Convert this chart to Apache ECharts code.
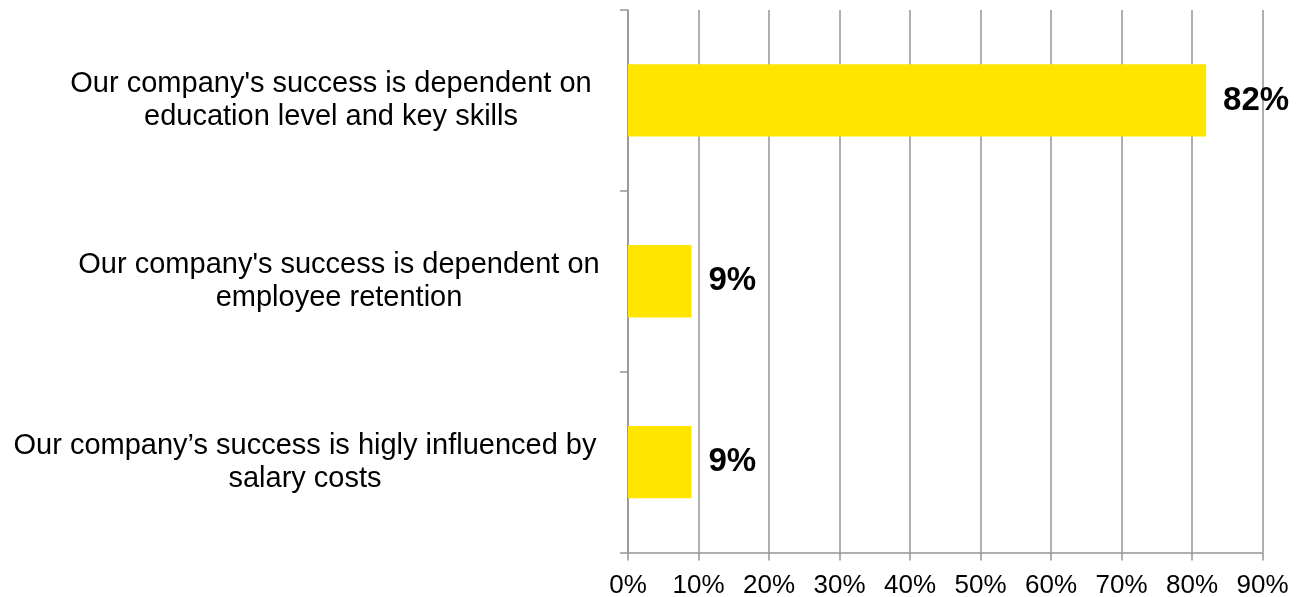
<!DOCTYPE html>
<html>
<head>
<meta charset="utf-8">
<style>
  html, body { margin: 0; padding: 0; background: #ffffff; }
  #chart { width: 1297px; height: 597px; }
</style>
<script src="https://cdn.jsdelivr.net/npm/echarts@6/dist/echarts.min.js"></script>
</head>
<body>
<div id="chart"></div>
<script>
// Survey statements (top to bottom) and share of respondents agreeing, in percent
const categories = [
  "Our company's success is dependent on\neducation level and key skills",
  "Our company's success is dependent on\nemployee retention",
  "Our company\u2019s success is higly influenced by\nsalary costs"
];
const shares = [82, 9, 9];

// Value axis range and step, in percent
const axisMin = 0;
const axisMax = 90;
const axisStep = 10;

// Width of the centred text block for each statement label
const labelBlockWidths = [544, 528, 596];

const FONT = '"Liberation Sans", Arial, Helvetica, sans-serif';
const GRID_COLOR = '#959595';

const rich = {};
labelBlockWidths.forEach(function (w, i) {
  rich['c' + i] = {
    width: w,
    align: 'center',
    fontFamily: FONT,
    fontSize: 29,
    lineHeight: 33,
    color: '#000000'
  };
});

const chart = echarts.init(document.getElementById('chart'), null, { renderer: 'canvas' });

chart.setOption({
  animation: false,
  backgroundColor: '#ffffff',
  grid: {
    left: 628, right: 34.5, top: 10, bottom: 44.5,
    containLabel: false,
    outerBoundsMode: 'none'
  },
  xAxis: {
    type: 'value',
    min: axisMin,
    max: axisMax,
    interval: axisStep,
    axisLine: { show: true, lineStyle: { color: GRID_COLOR, width: 1.5 } },
    axisTick: { show: true, length: 8, lineStyle: { color: GRID_COLOR, width: 1.5 } },
    splitLine: { show: true, lineStyle: { color: GRID_COLOR, width: 1.5 } },
    axisLabel: {
      margin: 20,
      fontFamily: FONT,
      fontSize: 26,
      color: '#000000',
      formatter: function (v) { return v + '%'; }
    }
  },
  yAxis: {
    type: 'category',
    data: categories,
    inverse: true,
    axisLine: { show: true, lineStyle: { color: GRID_COLOR, width: 1.5 } },
    axisTick: { show: true, length: 8, alignWithLabel: false, lineStyle: { color: GRID_COLOR, width: 1.5 } },
    splitLine: { show: false },
    axisLabel: {
      margin: 25,
      formatter: function (value, index) { return '{c' + index + '|' + value + '}'; },
      rich: rich
    }
  },
  series: [{
    type: 'bar',
    data: shares,
    barCategoryGap: '60%',
    itemStyle: { color: '#FFE500' },
    label: {
      show: true,
      position: 'right',
      distance: 17,
      fontFamily: FONT,
      fontSize: 33,
      fontWeight: 'bold',
      color: '#000000',
      formatter: function (p) { return p.value + '%'; }
    }
  }]
});
</script>
</body>
</html>
